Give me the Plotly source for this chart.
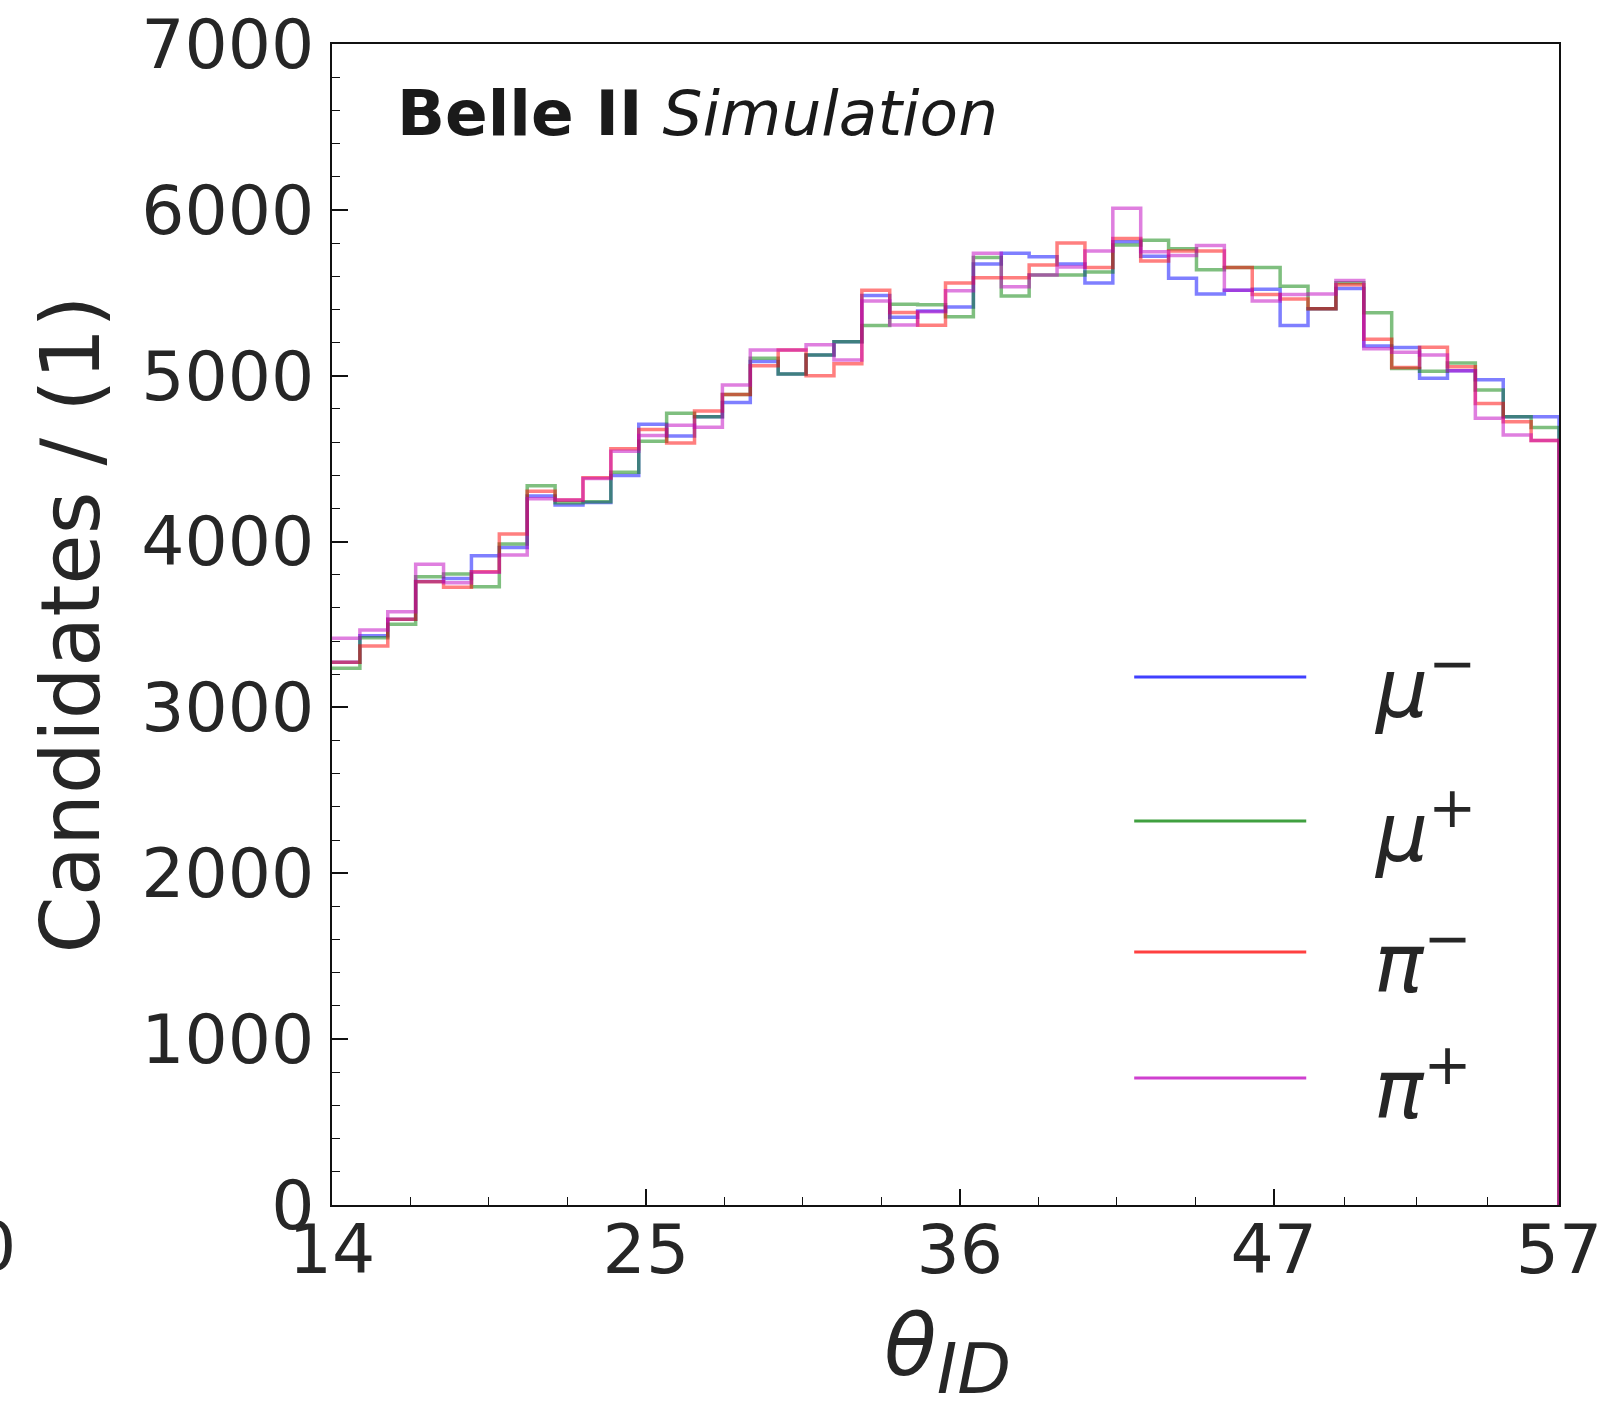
import numpy as np
import plotly.graph_objects as go

# ---- data ----
x_min, x_max, n_bins = 14, 57, 44
labels = ["μ<sup>−</sup>", "μ<sup>+</sup>", "π<sup>−</sup>", "π<sup>+</sup>"]
mu_minus = [3272,3432,3531,3760,3778,3915,3965,4275,4220,4235,4398,4708,4636,4753,4838,5085,5010,5125,5205,5483,5352,5390,5414,5673,5738,5717,5673,5559,5808,5721,5587,5492,5515,5522,5303,5403,5526,5179,5170,4984,5030,4976,4753,4753]
mu_plus = [3236,3420,3501,3788,3804,3728,3985,4337,4234,4240,4418,4605,4773,4753,4886,5105,5010,5125,5205,5303,5431,5428,5355,5712,5480,5607,5607,5625,5788,5816,5765,5639,5652,5652,5539,5403,5560,5379,5044,5027,5077,4914,4753,4688]
pi_minus = [3272,3370,3531,3758,3724,3818,4045,4303,4250,4385,4560,4675,4594,4787,4886,5060,5155,5000,5072,5515,5381,5304,5559,5590,5590,5667,5800,5653,5828,5691,5752,5752,5652,5490,5463,5403,5549,5220,5049,5171,5054,4833,4723,4610]
pi_plus = [3417,3467,3577,3863,3752,3815,3919,4258,4250,4380,4545,4640,4702,4689,4944,5155,5155,5187,5095,5450,5306,5385,5512,5738,5537,5607,5655,5752,6009,5747,5725,5785,5515,5451,5489,5492,5574,5162,5142,5125,5030,4743,4642,4610]
y_ticks = [0, 1000, 2000, 3000, 4000, 5000, 6000, 7000]
x_ticks = [14, 25, 36, 47, 57]
x_minor = [16.75, 19.5, 22.25, 27.75, 30.5, 33.25, 38.75, 41.5, 44.25, 49.5, 52, 54.5]

series = [mu_minus, mu_plus, pi_minus, pi_plus]
line_cols = ["rgba(0,0,255,0.5)", "rgba(0,128,0,0.5)", "rgba(255,0,0,0.5)", "rgba(191,0,191,0.5)"]
leg_cols = ["#4040ff", "#40a040", "#ff4040", "#cf40cf"]

edges = np.linspace(x_min, x_max, n_bins + 1)
font_col = "#262626"
FONT = "DejaVu Sans"

fig = go.Figure()
for vals, col in zip(series, line_cols):
    xs = list(edges[:-1]) + [x_max, x_max]
    ys = list(vals) + [vals[-1], 0]
    fig.add_trace(go.Scatter(x=xs, y=ys, mode="lines", line=dict(color=col, width=3.5, shape="hv"),
                             showlegend=False, hoverinfo="skip"))

L, R, T, B = 332, 1558.7, 44, 1205
W, H = 1597, 1409
pw, ph = R - L, B - T

def px(xp):
    return (xp - L) / pw

def py(yp):
    return (B - yp) / ph

axis_common = dict(showgrid=False, zeroline=False, showline=True, linecolor="#111111", linewidth=2,
                   mirror=True, ticks="inside", tickcolor="#111111", tickwidth=1.5, ticklen=16,
                   ticklabeloverflow="allow", automargin=False,
                   tickfont=dict(family=FONT, size=68, color=font_col))

fig.update_xaxes(range=[x_min, x_max], tickmode="array", tickvals=x_ticks,
                 ticktext=[str(v) for v in x_ticks], ticklabelstandoff=-16,
                 minor=dict(tickmode="array", tickvals=x_minor, ticks="inside", ticklen=8,
                            tickcolor="#111111", tickwidth=1.2),
                 **axis_common)
fig.update_yaxes(range=[0, 7000], tickmode="array", tickvals=y_ticks,
                 ticktext=[str(v) for v in y_ticks], ticklabelstandoff=2,
                 minor=dict(dtick=200, tick0=0, ticks="inside", ticklen=8,
                            tickcolor="#111111", tickwidth=1.2),
                 **axis_common)

ann = []
ann.append(dict(x=px(395), y=py(113), xref="paper", yref="paper", xanchor="left", yanchor="middle",
                text="<b>Belle II</b> <i>Simulation</i>", showarrow=False,
                font=dict(family=FONT, size=63, color="#1a1a1a")))
ann.append(dict(x=px(71), y=0.5, xref="paper", yref="paper", xanchor="center", yanchor="middle",
                text="Candidates / (1)", textangle=-90, showarrow=False,
                font=dict(family=FONT, size=82, color=font_col)))
ann.append(dict(x=px(947), y=py(1352), xref="paper", yref="paper", xanchor="center", yanchor="middle",
                text="<i>θ</i><sub><span style='font-size:70px'><i>ID</i></span></sub>", showarrow=False,
                font=dict(family=FONT, size=86, color=font_col)))
# clipped tick label at the far left edge
ann.append(dict(x=px(18), y=py(1246), xref="paper", yref="paper", xanchor="right", yanchor="middle",
                text="0", showarrow=False, font=dict(family=FONT, size=68, color=font_col)))

shapes = []
leg_y = [677, 821, 952, 1078]
for lab, col, yy in zip(labels, leg_cols, leg_y):
    shapes.append(dict(type="line", xref="paper", yref="paper", x0=px(1134), x1=px(1306),
                       y0=py(yy), y1=py(yy), line=dict(color=col, width=3)))
    ann.append(dict(x=px(1372), y=py(yy + 6), xref="paper", yref="paper", xanchor="left", yanchor="middle",
                    text="<i>" + lab + "</i>", showarrow=False,
                    font=dict(family=FONT, size=82, color=font_col)))

fig.update_layout(width=W, height=H, margin=dict(l=L, r=W - R, t=T, b=H - B, pad=0, autoexpand=False),
                  plot_bgcolor="white", paper_bgcolor="white", annotations=ann, shapes=shapes,
                  showlegend=False, font=dict(family=FONT, color=font_col))

fig.write_html("out.html")
